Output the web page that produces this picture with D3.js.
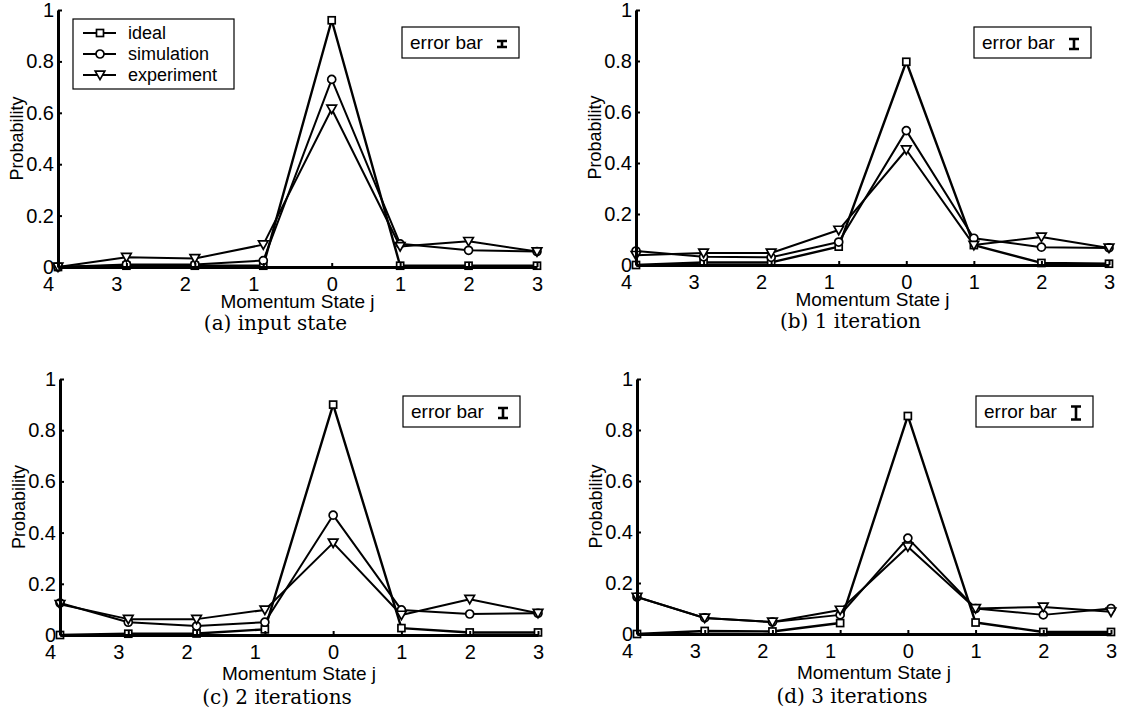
<!DOCTYPE html>
<html>
<head>
<meta charset="utf-8">
<script src="https://cdn.jsdelivr.net/npm/d3@7"></script>
<style>
  body { margin: 0; background: #fff; }
  text { font-family: "Liberation Sans", Arial, Helvetica, sans-serif; fill: #000; }
  .caption { font-family: "DejaVu Serif", "Liberation Serif", serif; }
</style>
</head>
<body>
<svg width="1123" height="709"></svg>
<script>

// momentum states, left to right (left half shown without the minus sign)
var states = [-4, -3, -2, -1, 0, 1, 2, 3];
var yTicks = [0, 0.2, 0.4, 0.6, 0.8, 1];
var seriesNames = ["ideal", "simulation", "experiment"];
var captions = ["(a) input state", "(b) 1 iteration", "(c) 2 iterations", "(d) 3 iterations"];

// (a) input state
var idealA = [0, 0.005, 0.005, 0.005, 0.96, 0.005, 0.005, 0.005];
var simA   = [0, 0.01, 0.01, 0.025, 0.73, 0.09, 0.065, 0.06];
var expA   = [0, 0.038, 0.033, 0.087, 0.615, 0.08, 0.1, 0.06];

// (b) 1 iteration
var idealB = [0, 0.01, 0.01, 0.072, 0.797, 0.078, 0.008, 0.005];
var simB   = [0.055, 0.032, 0.03, 0.09, 0.527, 0.105, 0.07, 0.067];
var expB   = [0.038, 0.047, 0.047, 0.137, 0.452, 0.078, 0.11, 0.067];

// (c) 2 iterations
var idealC = [0, 0.005, 0.006, 0.022, 0.9, 0.027, 0.01, 0.01];
var simC   = [0.125, 0.05, 0.035, 0.05, 0.468, 0.098, 0.082, 0.085];
var expC   = [0.12, 0.062, 0.062, 0.098, 0.36, 0.078, 0.14, 0.085];

// (d) 3 iterations
var idealD = [0, 0.012, 0.01, 0.043, 0.855, 0.045, 0.008, 0.008];
var simD   = [0.145, 0.063, 0.047, 0.075, 0.376, 0.1, 0.075, 0.1];
var expD   = [0.145, 0.063, 0.047, 0.094, 0.342, 0.1, 0.106, 0.087];

var panels = [
  {x0: 58,  x1: 537,  y0: 267, y1: 10,  labelDy: 41, capDy: 63, bar: 6,  series: [idealA, simA, expA], legend: true},
  {x0: 636, x1: 1109, y0: 265, y1: 10,  labelDy: 41, capDy: 63, bar: 10, series: [idealB, simB, expB], legend: false},
  {x0: 60,  x1: 538,  y0: 635, y1: 379, labelDy: 45, capDy: 69, bar: 10, series: [idealC, simC, expC], legend: false},
  {x0: 637, x1: 1111, y0: 634, y1: 379, labelDy: 45, capDy: 69, bar: 13, series: [idealD, simD, expD], legend: false}
];

var svg = d3.select("svg");

function drawMarker(sel, kind) {
  if (kind == 0) {
    sel.append("rect").attr("x", -3.5).attr("y", -3.5).attr("width", 7).attr("height", 7);
  } else if (kind == 1) {
    sel.append("circle").attr("r", 4);
  } else {
    sel.append("path").attr("d", "M-4.8,-3.8L4.8,-3.8L0,4.6Z");
  }
  sel.selectAll("*")
    .attr("fill", "#fff")
    .attr("stroke", "#000")
    .attr("stroke-width", 1.7);
}

function drawPanel(p, idx) {
  var x = d3.scaleLinear().domain([-4, 3]).range([p.x0, p.x1]);
  var y = d3.scaleLinear().domain([0, 1]).range([p.y0, p.y1]);
  var g = svg.append("g");

  // series lines
  var line = d3.line()
    .x(function(d, i) { return x(states[i]); })
    .y(function(d) { return y(d); });

  p.series.forEach(function(vals, k) {
    g.append("path")
      .datum(vals)
      .attr("fill", "none")
      .attr("stroke", "#000")
      .attr("stroke-width", k == 0 ? 2.4 : 2)
      .attr("stroke-linejoin", "round")
      .attr("d", line);
  });

  p.series.forEach(function(vals, k) {
    g.selectAll(".m" + k)
      .data(vals)
      .enter().append("g")
      .attr("class", "m" + k)
      .attr("transform", function(d, i) { return "translate(" + x(states[i]) + "," + y(d) + ")"; })
      .each(function() { drawMarker(d3.select(this), k); });
  });

  // axes
  var xAxis = g.append("g")
    .attr("transform", "translate(0," + p.y0 + ")")
    .call(d3.axisBottom(x)
      .tickValues(states)
      .tickFormat(function(d) { return Math.abs(d); })
      .tickSize(-4)
      .tickSizeOuter(0)
      .tickPadding(10));
  xAxis.selectAll("text")
    .attr("font-size", "20px")
    .attr("font-family", null)
    .attr("x", function(d) { return d < 0 ? -10 : 0; });

  var yAxis = g.append("g")
    .attr("transform", "translate(" + p.x0 + ",0)")
    .call(d3.axisLeft(y)
      .tickValues(yTicks)
      .tickFormat(function(d) { return String(+d.toFixed(1)); })
      .tickSize(-4)
      .tickSizeOuter(0)
      .tickPadding(4));
  yAxis.selectAll("text")
    .attr("font-size", "20px")
    .attr("font-family", null);

  [xAxis, yAxis].forEach(function(a) {
    a.select(".domain").attr("stroke-width", 3);
    a.selectAll(".tick line").attr("stroke-width", 2);
  });

  // axis titles
  g.append("text")
    .attr("x", (p.x0 + p.x1) / 2)
    .attr("y", p.y0 + p.labelDy)
    .attr("text-anchor", "middle")
    .attr("font-size", "19px")
    .text("Momentum State j");

  g.append("text")
    .attr("transform", "translate(" + (p.x0 - 41) + "," + ((p.y0 + p.y1) / 2) + ") rotate(-90)")
    .attr("text-anchor", "middle")
    .attr("dy", "0.35em")
    .attr("font-size", "18px")
    .text("Probability");

  g.append("text")
    .attr("class", "caption")
    .attr("x", (p.x0 + p.x1) / 2 - 22)
    .attr("y", p.y0 + p.capDy)
    .attr("text-anchor", "middle")
    .attr("font-size", "20px")
    .text(captions[idx]);

  // error bar key box
  var bx = p.x1 - 135, by = p.y1 + 17;
  var eb = g.append("g").attr("transform", "translate(" + bx + "," + by + ")");
  eb.append("rect")
    .attr("width", 117).attr("height", 31)
    .attr("fill", "#fff").attr("stroke", "#000").attr("stroke-width", 1.2);
  eb.append("text")
    .attr("x", 8).attr("y", 22)
    .attr("font-size", "19px")
    .text("error bar");
  var cy = 17, h = p.bar;
  eb.append("path")
    .attr("d", "M95," + (cy - h / 2) + "H105M100," + (cy - h / 2) + "V" + (cy + h / 2) + "M95," + (cy + h / 2) + "H105")
    .attr("fill", "none")
    .attr("stroke", "#000")
    .attr("stroke-width", 2.6);

  if (p.legend) {
    var lg = g.append("g").attr("transform", "translate(" + (p.x0 + 15) + "," + (p.y1 + 9) + ")");
    lg.append("rect")
      .attr("width", 161).attr("height", 70)
      .attr("fill", "#fff").attr("stroke", "#000").attr("stroke-width", 1.2);
    seriesNames.forEach(function(name, k) {
      var ry = 14 + k * 21;
      lg.append("line")
        .attr("x1", 10).attr("x2", 43).attr("y1", ry).attr("y2", ry)
        .attr("stroke", "#000").attr("stroke-width", 2.2);
      var m = lg.append("g").attr("transform", "translate(27," + ry + ")");
      drawMarker(m, k);
      lg.append("text")
        .attr("x", 55).attr("y", ry)
        .attr("dy", "0.35em")
        .attr("font-size", "18px")
        .text(name);
    });
  }
}

panels.forEach(drawPanel);

</script>
</body>
</html>
